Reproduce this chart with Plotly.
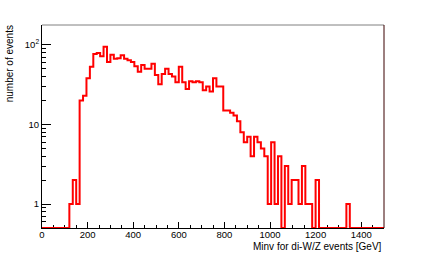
import math
import plotly.graph_objects as go

# Histogram: Minv for di-W/Z events, 100 bins of 15 GeV from 0 to 1500
bin_width = 15
x_min = 0
counts = [
    0, 0, 0, 0, 0, 0, 0, 0, 1, 2,
    1, 20, 23, 38, 53, 77, 79, 72, 95, 61,
    75, 67, 68, 74, 67, 64, 61, 54, 46, 56,
    50, 50, 58, 42, 32, 43, 50, 43, 40, 34,
    53, 34, 28, 35, 34, 35, 34, 27, 30, 26,
    38, 30, 30, 15, 15, 14, 13, 11, 8, 6,
    7, 4, 7, 6, 5, 4, 1, 6, 1, 4,
    0, 3, 1, 2, 2, 1, 3, 1, 1, 0,
    2, 0, 0, 0, 0, 0, 0, 0, 0, 1,
    0, 0, 0, 0, 0, 0, 0, 0, 0, 0,
]
x_ticks = [0, 200, 400, 600, 800, 1000, 1200, 1400]
y_ticks = [1, 10, 100]
y_tick_text = ["1", "10", "10<sup>2</sup>"]
x_title = "Minv for di-W/Z events [GeV]"
y_title = "number of events"

Y_MIN = 0.5
Y_MAX = 178

edges = [x_min + i * bin_width for i in range(len(counts) + 1)]
y_vals = [c if c > 0 else Y_MIN for c in counts]
y_vals = y_vals + [y_vals[-1]]

FONT = "Liberation Sans, Arial, sans-serif"

fig = go.Figure()
fig.add_trace(go.Scatter(
    x=edges, y=y_vals, mode="lines", line=dict(shape="hv", color="#ff0000", width=2),
    hoverinfo="skip", showlegend=False,
))

minor_y = [v * 10 ** e for e in (-1, 0, 1, 2) for v in range(2, 10)]
minor_y = [v for v in minor_y if Y_MIN <= v <= Y_MAX]

fig.update_layout(
    width=427, height=254,
    margin=dict(l=42, r=43, t=25, b=26, autoexpand=False),
    paper_bgcolor="white", plot_bgcolor="white",
    font=dict(family=FONT, size=9, color="black"),
    xaxis=dict(
        range=[0, 1500], tickvals=x_ticks, ticks="inside", ticklen=6, tickwidth=1,
        tickcolor="black", showgrid=False, zeroline=False, showline=True,
        linecolor="black", linewidth=1, layer="below traces",
        tickfont=dict(size=9.5, family=FONT), ticklabelstandoff=-2,
        minor=dict(dtick=50, tick0=0, ticks="inside", ticklen=3, tickcolor="black", showgrid=False),
    ),
    yaxis=dict(
        type="log", range=[math.log10(Y_MIN), math.log10(Y_MAX)],
        tickvals=y_ticks, ticktext=y_tick_text, ticks="inside", ticklen=9, tickwidth=1,
        tickcolor="black", showgrid=False, zeroline=False, showline=True,
        linecolor="black", linewidth=1, layer="below traces",
        tickfont=dict(size=9.5, family=FONT),
        minor=dict(tickmode="array", tickvals=minor_y, ticks="inside", ticklen=4,
                   tickcolor="black", showgrid=False),
    ),
    shapes=[
        dict(type="line", xref="paper", yref="paper", x0=0, x1=1, y0=1, y1=1,
             line=dict(color="#808080", width=1)),
        dict(type="line", xref="paper", yref="paper", x0=1, x1=1, y0=0, y1=1,
             line=dict(color="#3a0000", width=1)),
    ],
    annotations=[
        dict(text=x_title, xref="paper", yref="paper", x=1, y=-0.052,
             xanchor="right", yanchor="top", showarrow=False,
             font=dict(size=10, family=FONT)),
        dict(text=y_title, xref="paper", yref="paper", x=-0.094, y=1.01,
             xanchor="center", yanchor="top", textangle=-90, showarrow=False,
             font=dict(size=10, family=FONT)),
    ],
)

fig.write_html("out.html", config={"displayModeBar": False, "staticPlot": True})

# remove default page margin so the figure fills the window exactly
with open("out.html", "r", encoding="utf-8") as f:
    html = f.read()
html = html.replace("<head>", "<head><style>html,body{margin:0;padding:0;overflow:hidden;}</style>", 1)
with open("out.html", "w", encoding="utf-8") as f:
    f.write(html)
